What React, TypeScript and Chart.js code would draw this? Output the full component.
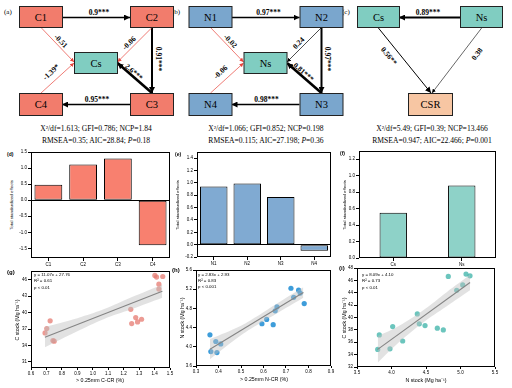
import React, { useEffect, useRef } from "react";
import { Chart, registerables } from "chart.js";
Chart.register(...registerables);

const FONT = "'Liberation Sans', Arial, sans-serif";
const SERIF = "'Liberation Serif', 'Times New Roman', serif";

// ---- path diagram data ----
const namesA = ["C1", "C2", "Cs", "C4", "C3"];
const coefA = ["0.9***", "0.91***", "0.95***", "2.6***", "-0.51", "-0.06", "-1.39*"];
const statsA = ["X²/df=1.613; GFI=0.786; NCP=1.84", "RMSEA=0.35; AIC=28.84; ", "=0.18"];
const namesB = ["N1", "N2", "Ns", "N4", "N3"];
const coefB = ["0.97***", "0.97***", "0.98***", "0.81***", "-0.02", "0.24", "-0.06"];
const statsB = ["X²/df=1.066; GFI=0.852; NCP=0.198", "RMSEA=0.115; AIC=27.198; ", "=0.36"];
const namesC = ["Cs", "Ns", "CSR"];
const coefC = ["0.89***", "0.56**", "0.38"];
const statsC = ["X²/df=5.49; GFI=0.39; NCP=13.466", "RMSEA=0.947; AIC=22.466; ", "=0.001"];

// ---- total effects ----
const effCatsC = ["C1", "C2", "C3", "C4"];
const effValsC = [0.48, 1.11, 1.3, -1.4];
const effTicksC = [-1.5, -1.0, -0.5, 0, 0.5, 1.0, 1.5];
const effCatsN = ["N1", "N2", "N3", "N4"];
const effValsN = [0.94, 0.99, 0.77, -0.1];
const effTicksN = [-0.2, 0, 0.2, 0.4, 0.6, 0.8, 1.0, 1.2, 1.4];
const effCatsS = ["Cs", "Ns"];
const effValsS = [0.55, 0.88];
const effTicksS = [0, 0.2, 0.4, 0.6, 0.8, 1.0, 1.2];

// ---- regressions ----
const gX = [1.402, 1.413, 1.453, 1.428, 1.428, 1.246, 1.278, 1.316, 1.29, 1.252, 0.724, 0.702, 0.691, 0.742, 0.75];
const gY = [46.8, 46.5, 46.6, 45.2, 44.3, 40.6, 39.1, 38.8, 38.3, 38.0, 38.5, 37.1, 36.3, 34.9, 34.8];
const gFitX = [0.69, 1.45];
const gFitY = [35.5, 43.9];
const gBandX = [0.69, 0.9, 1.07, 1.25, 1.45];
const gBandHi = [37.4, 39.0, 40.6, 42.8, 45.1];
const gBandLo = [33.7, 36.6, 38.8, 40.6, 42.7];
const gXTicks = [0.6, 0.7, 0.8, 0.9, 1.0, 1.1, 1.2, 1.3, 1.4, 1.5];
const gYTicks = [31, 34, 37, 40, 43, 46];
const gEq = ["y = 11.07x + 27.76", "R² = 0.61", "p < 0.01"];

const hX = [0.362, 0.388, 0.41, 0.366, 0.393, 0.593, 0.614, 0.643, 0.652, 0.66, 0.722, 0.734, 0.756, 0.763, 0.781];
const hY = [4.25, 4.11, 4.06, 3.9, 3.88, 4.48, 4.57, 4.46, 4.75, 4.83, 5.22, 5.03, 5.18, 5.12, 4.9];
const hFitX = [0.362, 0.777];
const hFitY = [3.95, 5.13];
const hBandX = [0.362, 0.5, 0.57, 0.65, 0.777];
const hBandHi = [4.16, 4.44, 4.63, 4.87, 5.24];
const hBandLo = [3.74, 4.24, 4.45, 4.67, 5.02];
const hXTicks = [0.3, 0.4, 0.5, 0.6, 0.7, 0.8, 0.9];
const hYTicks = [3.6, 4.0, 4.4, 4.8, 5.2, 5.6];
const hEq = ["y = 2.83x + 2.93", "R² = 0.83", "p < 0.001"];

const iX = [4.823, 5.08, 5.138, 5.032, 4.945, 4.374, 4.403, 4.486, 4.664, 4.751, 4.017, 3.823, 4.162, 3.978, 3.8];
const iY = [46.64, 47.02, 46.74, 45.26, 44.39, 40.57, 38.98, 38.7, 38.28, 38.0, 38.54, 37.18, 36.2, 34.93, 34.84];
const iFitX = [3.8, 5.138];
const iFitY = [34.84, 45.66];
const iBandX = [3.8, 4.1, 4.45, 4.8, 5.138];
const iBandHi = [37.0, 38.6, 41.1, 44.1, 46.9];
const iBandLo = [32.7, 35.9, 39.1, 41.8, 44.4];
const iXTicks = [3.5, 4.0, 4.5, 5.0, 5.5];
const iYTicks = [32, 34, 36, 38, 40, 42, 44, 46, 48];
const iEq = ["y = 8.09x + 4.10", "R² = 0.73", "p < 0.01"];

// ---- chart helpers ----
const framePlugin = {
  id: "frameBox",
  afterDraw(chart: any) {
    const { ctx, chartArea: a } = chart;
    ctx.save();
    ctx.strokeStyle = "#000";
    ctx.lineWidth = 1;
    ctx.strokeRect(Math.round(a.left) + 0.5, Math.round(a.top) + 0.5, Math.round(a.width) - 1, Math.round(a.height) - 1);
    ctx.restore();
  },
};

type Geo = { l: number; t: number; r: number; b: number; yw: number; xh: number; pt: number; pr: number };
const tickFont = { family: FONT, size: 4.5 };

function yScale(geo: Geo, min: number, max: number, ticks: number[], dec: number, zero: boolean) {
  return {
    type: "linear",
    min,
    max,
    afterBuildTicks: (s: any) => {
      s.ticks = ticks.map((v) => ({ value: v }));
    },
    afterFit: (s: any) => {
      s.width = geo.yw;
    },
    ticks: { font: tickFont, color: "#000", padding: 1, callback: (v: any) => Number(v).toFixed(dec) },
    grid: {
      drawOnChartArea: zero,
      color: (c: any) => (zero && c.tick && Math.abs(c.tick.value) < 1e-9 ? "#000" : "rgba(0,0,0,0)"),
      tickColor: "#000",
      tickLength: 3,
      lineWidth: 1,
    },
    border: { display: false },
  };
}

function barConfig(geo: Geo, labels: string[], values: number[], color: string, min: number, max: number, ticks: number[], barPct: number, zero: boolean) {
  return {
    type: "bar",
    data: {
      labels,
      datasets: [
        {
          data: values,
          backgroundColor: color,
          borderColor: "#000",
          borderWidth: 1,
          borderSkipped: false,
          barPercentage: barPct,
          categoryPercentage: 1,
        },
      ],
    },
    options: {
      animation: false,
      responsive: false,
      devicePixelRatio: 1,
      layout: { padding: { top: geo.pt, right: geo.pr, left: 0, bottom: 0 } },
      plugins: { legend: { display: false }, tooltip: { enabled: false } },
      scales: {
        x: {
          type: "category",
          afterFit: (s: any) => {
            s.height = geo.xh;
          },
          ticks: { font: tickFont, color: "#000", padding: 1, maxRotation: 0, autoSkip: false },
          grid: { drawOnChartArea: false, offset: false, tickColor: "#000", tickLength: 3 },
          border: { display: false },
        },
        y: yScale(geo, min, max, ticks, 1, zero),
      },
    },
    plugins: [framePlugin],
  };
}

function scatterConfig(
  geo: Geo,
  xs: number[], ys: number[],
  fitX: number[], fitY: number[],
  bandX: number[], bandLo: number[], bandHi: number[],
  xMin: number, xMax: number, xTicks: number[], xDec: number,
  yMin: number, yMax: number, yTicks: number[], yDec: number,
  color: string
) {
  return {
    type: "line",
    data: {
      datasets: [
        {
          data: bandX.map((x, i) => ({ x, y: bandLo[i] })),
          borderWidth: 0,
          pointRadius: 0,
          fill: false,
          tension: 0.4,
        },
        {
          data: bandX.map((x, i) => ({ x, y: bandHi[i] })),
          borderWidth: 0,
          pointRadius: 0,
          fill: "-1",
          backgroundColor: "rgba(190,190,190,0.45)",
          tension: 0.4,
        },
        {
          data: fitX.map((x, i) => ({ x, y: fitY[i] })),
          borderColor: "#555",
          borderWidth: 1.1,
          pointRadius: 0,
          fill: false,
        },
        {
          data: xs.map((x, i) => ({ x, y: ys[i] })),
          showLine: false,
          pointRadius: 2.6,
          pointBorderWidth: 0,
          pointBackgroundColor: color,
          fill: false,
        },
      ],
    },
    options: {
      animation: false,
      responsive: false,
      devicePixelRatio: 1,
      layout: { padding: { top: geo.pt, right: geo.pr, left: 0, bottom: 0 } },
      plugins: { legend: { display: false }, tooltip: { enabled: false } },
      scales: {
        x: {
          type: "linear",
          min: xMin,
          max: xMax,
          afterBuildTicks: (s: any) => {
            s.ticks = xTicks.map((v) => ({ value: v }));
          },
          afterFit: (s: any) => {
            s.height = geo.xh;
          },
          ticks: { font: tickFont, color: "#000", padding: 1, maxRotation: 0, callback: (v: any) => Number(v).toFixed(xDec) },
          grid: { drawOnChartArea: false, tickColor: "#000", tickLength: 2 },
          border: { display: false },
        },
        y: yScale(geo, yMin, yMax, yTicks, yDec, false),
      },
    },
    plugins: [framePlugin],
  };
}

function ChartPanel({ geo, config }: { geo: Geo; config: any }) {
  const ref = useRef<HTMLCanvasElement>(null);
  useEffect(() => {
    const c = new Chart(ref.current as HTMLCanvasElement, config);
    return () => c.destroy();
  }, []);
  const left = geo.l - geo.yw;
  const top = geo.t - geo.pt;
  const w = geo.r - geo.l + geo.yw + geo.pr;
  const h = geo.b - geo.t + geo.pt + geo.xh;
  return (
    <div style={{ position: "absolute", left, top, width: w, height: h }}>
      <canvas ref={ref} width={w} height={h} style={{ display: "block" }} />
    </div>
  );
}

// ---- text helpers ----
function Txt({ x, y, text, size, bold, rot, anchor, family }: any) {
  const tx = anchor === "start" ? "0" : "-50%";
  return (
    <div
      style={{
        position: "absolute",
        left: x,
        top: y,
        transform: `translate(${tx},-50%) rotate(${rot || 0}deg)`,
        transformOrigin: anchor === "start" ? "0 50%" : "50% 50%",
        whiteSpace: "nowrap",
        fontFamily: family || FONT,
        fontSize: size,
        fontWeight: bold ? 700 : 400,
        color: "#000",
        lineHeight: 1,
      }}
    >
      {text}
    </div>
  );
}

// ---- path diagram ----
const RED = "#e8433b";
function Box({ x, y, w, h, fill, label }: any) {
  return (
    <g>
      <rect x={x + 0.5} y={y + 0.5} width={w} height={h} fill={fill} stroke="#222" strokeWidth={1} />
      <text x={x + w / 2 + 0.5} y={y + h / 2 + 0.8} textAnchor="middle" dominantBaseline="central" fontFamily={SERIF} fontSize={10.5}>
        {label}
      </text>
    </g>
  );
}
function Edge({ x1, y1, x2, y2, neg, w }: any) {
  const col = neg ? RED : "#000";
  return <line x1={x1} y1={y1} x2={x2} y2={y2} stroke={col} strokeWidth={w} markerEnd={neg ? "url(#hr)" : w > 0.9 ? "url(#hb)" : "url(#hs)"} />;
}
function Coef({ x, y, rot, text }: any) {
  return (
    <text x={x} y={y} transform={`rotate(${rot || 0} ${x} ${y})`} textAnchor="middle" dominantBaseline="central" fontFamily={SERIF} fontSize={7.5} fontWeight={700} fill="#000">
      {text}
    </text>
  );
}
function Stats({ cx, lines }: any) {
  return (
    <g fontFamily={SERIF} fontSize={7.6} textAnchor="middle">
      <text x={cx} y={131}>{lines[0]}</text>
      <text x={cx} y={143}>
        {lines[1]}
        <tspan fontStyle="italic">P</tspan>
        {lines[2]}
      </text>
    </g>
  );
}

function SquareDiagram({ ox, names, coefs, fill, center }: any) {
  const neg = (s: string) => s.startsWith("-");
  return (
    <g transform={`translate(${ox},0)`}>
      <Edge x1={62} y1={17.5} x2={130} y2={17.5} w={1.6} neg={neg(coefs[0])} />
      <Edge x1={152} y1={27} x2={152} y2={93} w={2} neg={neg(coefs[1])} />
      <Edge x1={130} y1={104.5} x2={62} y2={104.5} w={1.6} neg={neg(coefs[2])} />
      <Edge x1={152} y1={93} x2={117.5} y2={63} w={2.6} neg={neg(coefs[3])} />
      <Edge x1={41} y1={27.5} x2={74} y2={62} w={0.7} neg={neg(coefs[4])} />
      <Edge x1={152} y1={27.5} x2={117.5} y2={62} w={0.7} neg={neg(coefs[5])} />
      <Edge x1={41} y1={93} x2={74} y2={63} w={0.7} neg={neg(coefs[6])} />
      <Box x={19} y={6} w={43} h={21} fill={fill} label={names[0]} />
      <Box x={130} y={6} w={43} h={21} fill={fill} label={names[1]} />
      <Box x={74} y={52} w={43} h={21} fill={center} label={names[2]} />
      <Box x={19} y={93} w={43} h={22} fill={fill} label={names[3]} />
      <Box x={130} y={93} w={43} h={22} fill={fill} label={names[4]} />
      <Coef x={99} y={12.5} text={coefs[0]} />
      <Coef x={158} y={59} rot={90} text={coefs[1]} />
      <Coef x={97} y={99.5} text={coefs[2]} />
      <Coef x={134} y={72} rot={41} text={coefs[3]} />
      <Coef x={61} y={41} rot={45} text={coefs[4]} />
      <Coef x={129} y={43} rot={-45} text={coefs[5]} />
      <Coef x={51} y={72} rot={-43} text={coefs[6]} />
    </g>
  );
}

function Diagrams() {
  return (
    <svg width={512} height={150} style={{ position: "absolute", left: 0, top: 0 }}>
      <defs>
        <marker id="hb" viewBox="0 0 10 10" refX="10" refY="5" markerWidth="6" markerHeight="6" markerUnits="userSpaceOnUse" orient="auto">
          <path d="M0,0 L10,5 L0,10 z" fill="#000" />
        </marker>
        <marker id="hs" viewBox="0 0 10 10" refX="10" refY="5" markerWidth="4" markerHeight="4" markerUnits="userSpaceOnUse" orient="auto">
          <path d="M0,0 L10,5 L0,10 z" fill="#000" />
        </marker>
        <marker id="hr" viewBox="0 0 10 10" refX="10" refY="5" markerWidth="4" markerHeight="4" markerUnits="userSpaceOnUse" orient="auto">
          <path d="M0,0 L10,5 L0,10 z" fill={RED} />
        </marker>
      </defs>
      <text x={4} y={14} fontFamily={SERIF} fontSize={7}>(a)</text>
      <text x={172} y={14} fontFamily={SERIF} fontSize={7}>(b)</text>
      <text x={342} y={14} fontFamily={SERIF} fontSize={7}>(c)</text>
      <SquareDiagram ox={0} names={namesA} coefs={coefA} fill="#f27c6c" center="#80cdc1" />
      <SquareDiagram ox={169.5} names={namesB} coefs={coefB} fill="#7aa6cd" center="#80cdc1" />
      <g>
        <Edge x1={460} y1={17.5} x2={399} y2={17.5} w={2} neg={false} />
        <Edge x1={378} y1={27.5} x2={431} y2={93} w={1} neg={false} />
        <Edge x1={482} y1={27.5} x2={432} y2={93} w={0.6} neg={false} />
        <Box x={357} y={6} w={42} h={21} fill="#80cdc1" label={namesC[0]} />
        <Box x={460} y={6} w={42} h={21} fill="#80cdc1" label={namesC[1]} />
        <Box x={408} y={93} w={44} h={22} fill="#f7c6a3" label={namesC[2]} />
        <Coef x={428} y={12.5} text={coefC[0]} />
        <Coef x={389} y={56} rot={51} text={coefC[1]} />
        <Coef x={477} y={54} rot={-53} text={coefC[2]} />
      </g>
      <Stats cx={96} lines={statsA} />
      <Stats cx={266} lines={statsB} />
      <Stats cx={432} lines={statsC} />
    </svg>
  );
}

// ---- geometry ----
const geoD: Geo = { l: 31, t: 152, r: 170, b: 258, yw: 15, xh: 10, pt: 5, pr: 6 };
const geoE: Geo = { l: 197, t: 152, r: 331, b: 257, yw: 15, xh: 10, pt: 5, pr: 6 };
const geoF: Geo = { l: 359, t: 151, r: 496, b: 258, yw: 15, xh: 10, pt: 5, pr: 6 };
const geoG: Geo = { l: 31, t: 271, r: 170, b: 368, yw: 12, xh: 9, pt: 5, pr: 6 };
const geoH: Geo = { l: 196, t: 270, r: 331, b: 366, yw: 12, xh: 9, pt: 5, pr: 6 };
const geoI: Geo = { l: 357, t: 268, r: 495, b: 367, yw: 12, xh: 9, pt: 5, pr: 6 };

export default function App() {
  const cfgD = barConfig(geoD, effCatsC, effValsC, "#f8806f", -1.8, 1.5, effTicksC, 0.8, true);
  const cfgE = barConfig(geoE, effCatsN, effValsN, "#80aad2", -0.2, 1.5, effTicksN, 0.82, true);
  const cfgF = barConfig(geoF, effCatsS, effValsS, "#8ed2c8", 0, 1.3, effTicksS, 0.4, false);
  const cfgG = scatterConfig(geoG, gX, gY, gFitX, gFitY, gBandX, gBandLo, gBandHi, 0.6, 1.5, gXTicks, 1, 29.9, 47.6, gYTicks, 0, "rgba(230,122,112,0.75)");
  const cfgH = scatterConfig(geoH, hX, hY, hFitX, hFitY, hBandX, hBandLo, hBandHi, 0.3, 0.9, hXTicks, 1, 3.6, 5.6, hYTicks, 1, "rgba(28,140,212,0.85)");
  const cfgI = scatterConfig(geoI, iX, iY, iFitX, iFitY, iBandX, iBandLo, iBandHi, 3.5, 5.5, iXTicks, 1, 32, 48, iYTicks, 0, "rgba(70,182,172,0.8)");
  return (
    <div style={{ position: "fixed", left: 0, top: 0, width: 512, height: 388, background: "#fff", overflow: "hidden" }}>
      <Diagrams />
      <ChartPanel geo={geoD} config={cfgD} />
      <ChartPanel geo={geoE} config={cfgE} />
      <ChartPanel geo={geoF} config={cfgF} />
      <ChartPanel geo={geoG} config={cfgG} />
      <ChartPanel geo={geoH} config={cfgH} />
      <ChartPanel geo={geoI} config={cfgI} />

      <Txt x={7} y={154} text="(d)" size={5} bold anchor="start" />
      <Txt x={175} y={154} text="(e)" size={5} bold anchor="start" />
      <Txt x={340} y={153} text="(f)" size={5} bold anchor="start" />
      <Txt x={12} y={205} text="Total standardized effects" size={4.4} rot={-90} />
      <Txt x={178} y={205} text="Total standardized effects" size={4.4} rot={-90} />
      <Txt x={345} y={205} text="Total standardized effects" size={4.4} rot={-90} />

      <Txt x={7} y={272} text="(g)" size={6} bold anchor="start" />
      <Txt x={172} y={270} text="(h)" size={6} bold anchor="start" />
      <Txt x={339} y={268} text="(i)" size={6} bold anchor="start" />
      <Txt x={18} y={320} text="C stock (Mg ha⁻¹)" size={5.3} rot={-90} />
      <Txt x={183} y={318} text="N stock (Mg ha⁻¹)" size={5.3} rot={-90} />
      <Txt x={345} y={318} text="C stock (Mg ha⁻¹)" size={5.3} rot={-90} />
      <Txt x={100} y={381} text="> 0.25mm C-CR (%)" size={5.3} />
      <Txt x={264} y={380} text="> 0.25mm N-CR (%)" size={5.3} />
      <Txt x={426} y={381} text="N stock (Mg ha⁻¹)" size={5.3} />

      <Txt x={34} y={275} text={gEq[0]} size={4.4} anchor="start" />
      <Txt x={34} y={281} text={gEq[1]} size={4.4} anchor="start" />
      <Txt x={34} y={288} text={gEq[2]} size={4.4} anchor="start" />
      <Txt x={198} y={275} text={hEq[0]} size={4.4} anchor="start" />
      <Txt x={198} y={281} text={hEq[1]} size={4.4} anchor="start" />
      <Txt x={198} y={287} text={hEq[2]} size={4.4} anchor="start" />
      <Txt x={362} y={275} text={iEq[0]} size={4.4} anchor="start" />
      <Txt x={362} y={281} text={iEq[1]} size={4.4} anchor="start" />
      <Txt x={362} y={288} text={iEq[2]} size={4.4} anchor="start" />
    </div>
  );
}
